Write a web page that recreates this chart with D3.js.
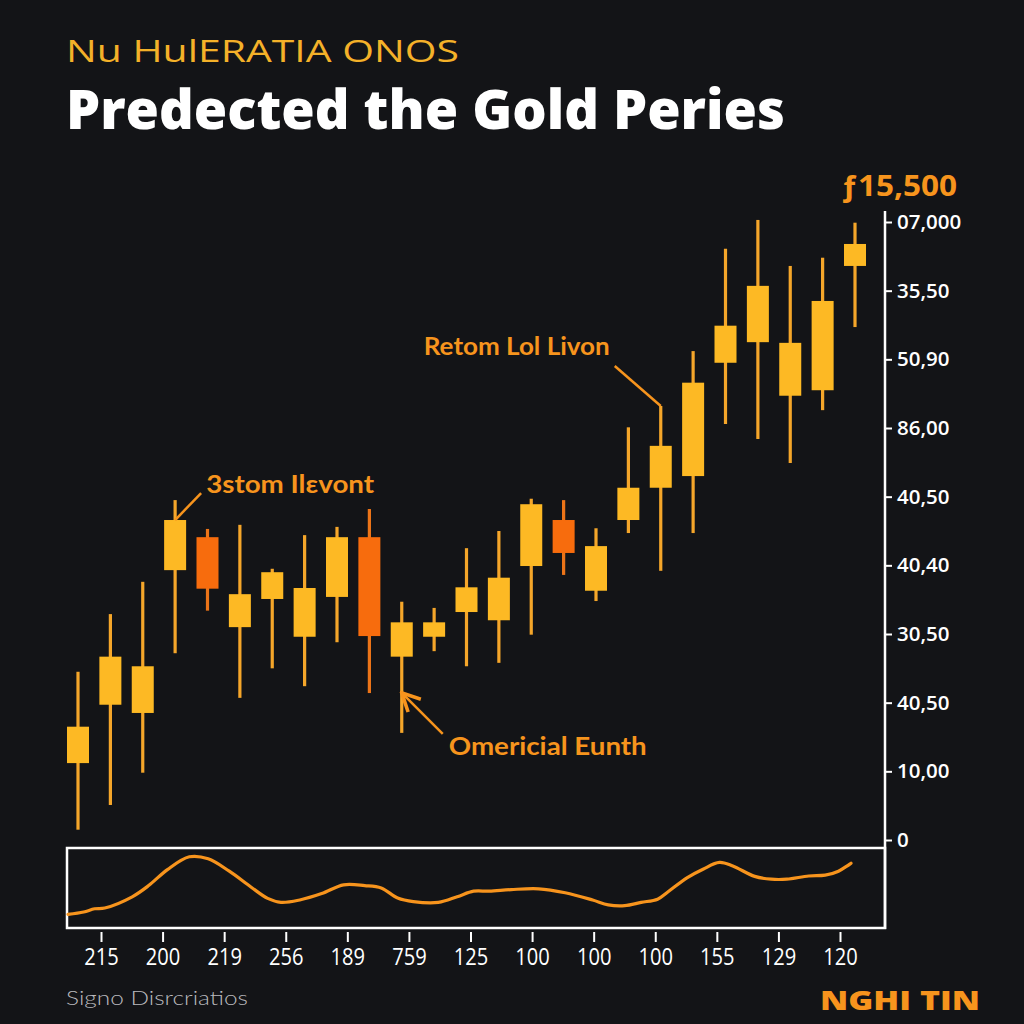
<!DOCTYPE html>
<html>
<head>
<meta charset="utf-8">
<script src="https://cdn.jsdelivr.net/npm/d3@7"></script>
<style>
  html, body { margin: 0; padding: 0; background: #131417; }
  svg { display: block; }
</style>
</head>
<body>
<svg id="chart" width="1024" height="1024"></svg>
<script>
// ---------- data ----------
const candleOpen  = [1120,1970,1850,3930,4410,3100,3510,2960,3540,4410,2670,2960,3320,3200,3990,4660,3630,4660,5130,5300,6950,7250,6470,6550,8360];
const candleHigh  = [2450,3290,3760,4950,4530,4590,3950,4440,4560,4820,3470,3380,4250,4500,4970,4950,4540,6010,6320,7120,8610,9030,8360,8480,8990];
const candleLow   = [ 150, 510, 980,2720,3340,2070,2500,2240,2880,2140,1560,2750,2530,2580,2990,3860,3480,4470,3920,4470,6060,5840,5490,6260,7470];
const candleClose = [1650,2670,2530,4660,3660,3580,3900,3670,4410,2970,3170,3170,3680,3820,4890,4180,4280,5130,5740,6660,7490,8070,7240,7850,8680];

const yTickValues = [0,1000,2000,3000,4000,5000,6000,7000,8000,9000];
const yTickLabels = ["0","10,00","40,50","30,50","40,40","40,50","86,00","50,90","35,50","07,000"];

const xTickLabels = ["215","200","219","256","189","759","125","100","100","100","155","129","120"];

// indicator line: position along time axis (0-100) and value (0-100)
const indicatorT = [0,2.0,3.4,4.7,8.2,10.3,12.7,15.5,17.9,20.6,23.4,25.5,27.2,29.6,32.4,35.2,37.9,40.0,42.1,44.1,47.3,49.7,51.8,53.8,56.6,60.1,63.5,67.0,69.0,71.1,73.2,75.3,76.6,79.1,81.1,83.2,84.9,87.7,89.8,91.8,94.6,96.7,98.4,100];
const indicatorV = [17,20,24,25,39,53,73,89,86.5,71,51,37,32,35,43,54,53,50,37.5,33,32,39,46,46,48,49,44,35,29,28,32,36,45,63,73.5,82,77.5,64.5,61,61,65,66,71,81];

const subtitle = "Nu HulERATIA ONOS";
const title = "Predected the Gold Peries";
const priceLabel = "ƒ15,500";
const annotations = [
  { text: "3stom Ilεvont", idx: 3 },
  { text: "Retom Lol Livon", idx: 18 },
  { text: "Omericial Eunth", idx: 10 }
];
const footerLeft = "Signo Disrcriatios";
const footerRight = "NGHI TIN";

// ---------- drawing ----------
const svg = d3.select("#chart");
const ORANGE = "#f7941d";
const GOLD = "#fdb924";
const GOLD_WICK = "#f5a62a";
const RED = "#f76c0d";
const RED_WICK = "#ec7418";

svg.append("rect").attr("width",1024).attr("height",1024).attr("fill","#131417");

// titles
svg.append("text").attr("x",66).attr("y",62)
  .attr("fill","#f4b129").attr("font-family","Open Sans, Lato, sans-serif")
  .attr("font-size",31).attr("font-weight",400)
  .attr("textLength",393).attr("lengthAdjust","spacingAndGlyphs")
  .text(subtitle);
svg.append("text").attr("x",66).attr("y",129)
  .attr("fill","#ffffff").attr("font-family","Open Sans, Noto Sans, sans-serif")
  .attr("font-size",54).attr("font-weight",800)
  .attr("textLength",719).attr("lengthAdjust","spacingAndGlyphs")
  .text(title);

// scales
const idx = d3.range(candleOpen.length);
const x = d3.scalePoint().domain(idx).range([78, 855]);
const y = d3.scaleLinear().domain([0, 9000]).range([840, 222]);

// right axis
const axisX = 885;
svg.append("line").attr("x1",axisX).attr("x2",axisX)
  .attr("y1",y(9160)).attr("y2",929)
  .attr("stroke","#ffffff").attr("stroke-width",2.5);
const yAxis = d3.axisRight(y).tickValues(yTickValues)
  .tickFormat((d,i)=>yTickLabels[i]).tickSize(7).tickPadding(5);
const gy = svg.append("g").attr("transform",`translate(${axisX},0)`).call(yAxis);
gy.select(".domain").remove();
gy.selectAll(".tick line").attr("stroke","#ffffff").attr("stroke-width",2);
gy.selectAll(".tick text").attr("fill","#ffffff")
  .attr("font-family","Open Sans, sans-serif").attr("font-size",20.5).attr("font-weight",600);

// price label
svg.append("text").attr("x",840).attr("y",196)
  .attr("fill",ORANGE).attr("font-family","Open Sans, sans-serif")
  .attr("font-size",29).attr("font-weight",700)
  .attr("textLength",117).attr("lengthAdjust","spacingAndGlyphs")
  .text(priceLabel);

// candles
const candles = idx.map(i => ({i, o:candleOpen[i], h:candleHigh[i], l:candleLow[i], c:candleClose[i]}));
const bodyW = 22;
const g = svg.append("g");
g.selectAll("line.wick").data(candles).join("line")
  .attr("class","wick")
  .attr("x1", d=>x(d.i)).attr("x2", d=>x(d.i))
  .attr("y1", d=>y(d.h)).attr("y2", d=>y(d.l))
  .attr("stroke", d=> d.c>=d.o ? GOLD_WICK : RED_WICK)
  .attr("stroke-width",3.2);
g.selectAll("rect.body").data(candles).join("rect")
  .attr("class","body")
  .attr("x", d=>x(d.i)-bodyW/2).attr("width", bodyW)
  .attr("y", d=>y(Math.max(d.o,d.c)))
  .attr("height", d=>Math.abs(y(d.o)-y(d.c)))
  .attr("fill", d=> d.c>=d.o ? GOLD : RED);

// annotations
const defs = svg.append("defs");
defs.append("marker").attr("id","arr").attr("viewBox","0 0 10 10")
  .attr("refX",9).attr("refY",5).attr("markerWidth",9).attr("markerHeight",9)
  .attr("orient","auto-start-reverse")
  .append("path").attr("d","M1,1 L9,5 L1,9").attr("fill","none")
  .attr("stroke",ORANGE).attr("stroke-width",1.6);

const annFont = "Lato, Open Sans, sans-serif";
// annotation 1: above candle 4
{
  const c = candles[annotations[0].idx];
  const tx = x(c.i), ty = y(Math.max(c.o,c.c));
  svg.append("line").attr("x1",tx+26).attr("y1",ty-27).attr("x2",tx).attr("y2",ty)
    .attr("stroke",ORANGE).attr("stroke-width",2.5);
  svg.append("text").attr("x",tx+31).attr("y",ty-27)
    .attr("fill",ORANGE).attr("font-family",annFont).attr("font-size",24).attr("font-weight",700)
    .attr("textLength",168).attr("lengthAdjust","spacingAndGlyphs")
    .text(annotations[0].text);
}
// annotation 2: wick top of candle 19
{
  const c = candles[annotations[1].idx];
  const tx = x(c.i), ty = y(c.h);
  svg.append("line").attr("x1",tx-46).attr("y1",ty-40).attr("x2",tx).attr("y2",ty)
    .attr("stroke",ORANGE).attr("stroke-width",2.5);
  svg.append("text").attr("x",tx-237).attr("y",ty-51)
    .attr("fill",ORANGE).attr("font-family",annFont).attr("font-size",24).attr("font-weight",700)
    .attr("textLength",186).attr("lengthAdjust","spacingAndGlyphs")
    .text(annotations[1].text);
}
// annotation 3: lower wick of candle 11
{
  const c = candles[annotations[2].idx];
  const tx = x(c.i), ty = y(c.l) - 40;
  svg.append("line").attr("x1",tx+41).attr("y1",ty+41).attr("x2",tx).attr("y2",ty)
    .attr("stroke",ORANGE).attr("stroke-width",2.5).attr("marker-end","url(#arr)");
  svg.append("text").attr("x",tx+47).attr("y",ty+62)
    .attr("fill",ORANGE).attr("font-family",annFont).attr("font-size",24).attr("font-weight",700)
    .attr("textLength",198).attr("lengthAdjust","spacingAndGlyphs")
    .text(annotations[2].text);
}

// lower indicator panel
const px0 = 67, px1 = axisX, py0 = 848, py1 = 928;
svg.append("rect").attr("x",px0).attr("y",py0).attr("width",px1-px0).attr("height",py1-py0)
  .attr("fill","none").attr("stroke","#ffffff").attr("stroke-width",2.5);
const xs = d3.scaleLinear().domain([0,100]).range([68, 851]);
const ys = d3.scaleLinear().domain([0,100]).range([py1, py0]);
const pts = indicatorT.map((t,i)=>[t, indicatorV[i]]);
svg.append("path").datum(pts)
  .attr("d", d3.line().x(d=>xs(d[0])).y(d=>ys(d[1])).curve(d3.curveCatmullRom.alpha(0.5)))
  .attr("fill","none").attr("stroke",ORANGE).attr("stroke-width",3.2)
  .attr("stroke-linejoin","round").attr("stroke-linecap","round");

// bottom axis
const xb = d3.scalePoint().domain(d3.range(xTickLabels.length)).range([101, 840]);
const xAxis = d3.axisBottom(xb).tickFormat(i=>xTickLabels[i]).tickSize(10).tickPadding(7);
const gx = svg.append("g").attr("transform",`translate(0,${py1+4})`).call(xAxis);
gx.select(".domain").remove();
gx.selectAll(".tick line").attr("stroke","#ffffff").attr("stroke-width",2);
gx.selectAll(".tick text").attr("fill","#ffffff")
  .attr("font-family","Open Sans, Roboto, sans-serif")
  .attr("font-size",23).attr("font-weight",500)
  .attr("textLength", i => xTickLabels[i].length * 11.5)
  .attr("lengthAdjust","spacingAndGlyphs");

// footer
svg.append("text").attr("x",66).attr("y",1005)
  .attr("fill","#b9b9bd").attr("font-family","Lato, Open Sans, sans-serif")
  .attr("font-size",19).attr("font-weight",300)
  .attr("textLength",182).attr("lengthAdjust","spacingAndGlyphs")
  .text(footerLeft);
svg.append("text").attr("x",820).attr("y",1010)
  .attr("fill",ORANGE).attr("font-family","Open Sans, sans-serif")
  .attr("font-size",27).attr("font-weight",800)
  .attr("textLength",160).attr("lengthAdjust","spacingAndGlyphs")
  .text(footerRight);
</script>
</body>
</html>
